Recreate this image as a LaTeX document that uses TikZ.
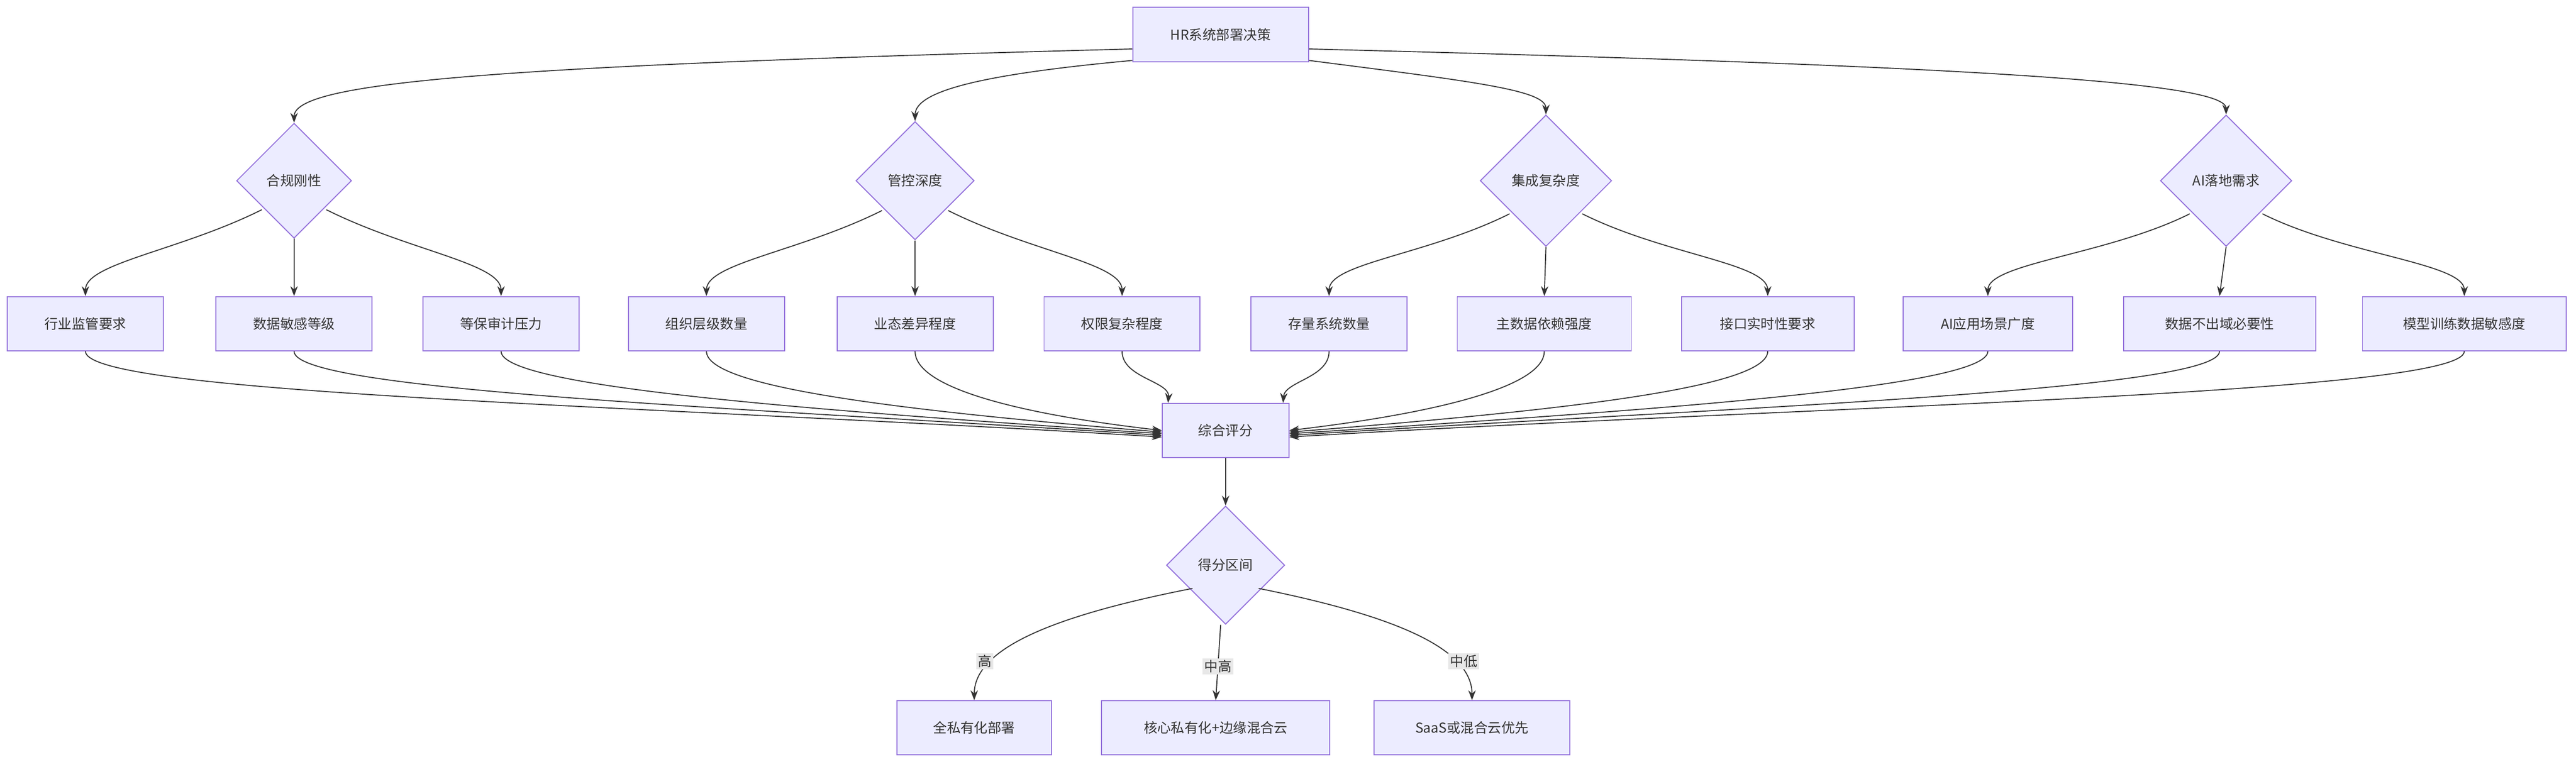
\documentclass[tikz,border=0pt]{standalone}
\usepackage{fontspec}
\setmainfont{Noto Sans CJK SC}
\usetikzlibrary{shapes.geometric,arrows.meta,calc}
\definecolor{nfill}{HTML}{ECECFF}
\definecolor{nline}{HTML}{9370DB}
\definecolor{ink}{HTML}{333333}
\definecolor{lbl}{HTML}{E8E8E8}
\begin{document}
\begin{tikzpicture}[x=1pt,y=-1pt,
  every node/.style={font=\fontsize{8.3}{10}\selectfont, text=ink},
  box/.style={draw=nline, fill=nfill, line width=0.6pt, minimum height=33pt, inner sep=0pt},
  dia/.style={diamond, draw=nline, fill=nfill, line width=0.6pt, inner sep=0pt, minimum width=#1, minimum height=#1},
  e/.style={draw=ink, line width=0.6pt, -{Stealth[length=6pt,width=4.5pt]}},
  el/.style={fill=lbl, inner sep=1pt}]
\useasboundingbox (0,0) rectangle (1568,463.6);
\fill[white] (0,0) rectangle (1568,463.6);
\node[box, minimum width=107pt] (top) at (743,21) {HR系统部署决策};
\node[dia=70pt] (d1) at (179,110) {合规刚性};
\node[dia=72pt] (d2) at (557,110) {管控深度};
\node[dia=80pt] (d3) at (941,110) {集成复杂度};
\node[dia=80pt] (d4) at (1355,110) {AI落地需求};
\node[box, minimum width=95pt] (b1) at (52,197) {行业监管要求};
\node[box, minimum width=95pt] (b2) at (179,197) {数据敏感等级};
\node[box, minimum width=95pt] (b3) at (305,197) {等保审计压力};
\node[box, minimum width=95pt] (b4) at (430,197) {组织层级数量};
\node[box, minimum width=95pt] (b5) at (557,197) {业态差异程度};
\node[box, minimum width=95pt] (b6) at (683,197) {权限复杂程度};
\node[box, minimum width=95pt] (b7) at (809,197) {存量系统数量};
\node[box, minimum width=106pt] (b8) at (940,197) {主数据依赖强度};
\node[box, minimum width=105pt] (b9) at (1076,197) {接口实时性要求};
\node[box, minimum width=103pt] (b10) at (1210,197) {AI应用场景广度};
\node[box, minimum width=117pt] (b11) at (1351,197) {数据不出域必要性};
\node[box, minimum width=124pt] (b12) at (1500,197) {模型训练数据敏感度};
\node[box, minimum width=77pt] (s) at (746,262) {综合评分};
\node[dia=72pt] (r) at (746,344) {得分区间};
\node[box, minimum width=94pt] (o1) at (593,443) {全私有化部署};
\node[box, minimum width=139pt] (o2) at (740,443) {核心私有化+边缘混合云};
\node[box, minimum width=119pt] (o3) at (896,443) {SaaS或混合云优先};
% top to diamonds
\draw[e] ([yshift=8pt]top.south west) .. controls (300,40) and (179,50) .. (d1.north);
\draw[e] ([yshift=1pt]top.south west) .. controls (600,45) and (557,55) .. (d2.north);
\draw[e] ([yshift=1pt]top.south east) .. controls (900,50) and (941,55) .. (d3.north);
\draw[e] ([yshift=8pt]top.south east) .. controls (1200,40) and (1355,50) .. (d4.north);
% diamonds to boxes
\foreach \d/\a/\b/\c in {d1/b1/b2/b3, d2/b4/b5/b6, d3/b7/b8/b9, d4/b10/b11/b12}{
  \draw[e] ($(\d.south west)+(-2,0)$) .. controls +(-50,25) and ($(\a.north)+(0,-20)$) .. (\a.north);
  \draw[e] (\d.south) -- (\b.north);
  \draw[e] ($(\d.south east)+(2,0)$) .. controls +(50,25) and ($(\c.north)+(0,-20)$) .. (\c.north);
}
% boxes to score
\draw[e] (b1.south) .. controls (52,240) and (400,247) .. ([yshift=-4pt]s.west);
\draw[e] (b2.south) .. controls (179,238) and (450,248) .. ([yshift=-3pt]s.west);
\draw[e] (b3.south) .. controls (305,236) and (500,250) .. ([yshift=-2pt]s.west);
\draw[e] (b4.south) .. controls (430,236) and (550,250) .. ([yshift=-1pt]s.west);
\draw[e] (b5.south) .. controls (557,236) and (620,252) .. (s.west);
\draw[e] (b6.south) .. controls (683,230) and (712,232) .. ([xshift=-35pt]s.north);
\draw[e] (b7.south) .. controls (809,230) and (782,232) .. ([xshift=35pt]s.north);
\draw[e] (b8.south) .. controls (940,236) and (870,252) .. (s.east);
\draw[e] (b9.south) .. controls (1076,236) and (950,250) .. ([yshift=-1pt]s.east);
\draw[e] (b10.south) .. controls (1210,236) and (1000,250) .. ([yshift=-2pt]s.east);
\draw[e] (b11.south) .. controls (1351,238) and (1050,248) .. ([yshift=-3pt]s.east);
\draw[e] (b12.south) .. controls (1500,240) and (1100,247) .. ([yshift=-4pt]s.east);
\draw[e] (s.south) -- (r.north);
% outcomes
\draw[e] ($(r.south west)+(-2,-4)$) .. controls (640,375) and (593,395) .. node[el, pos=0.72, left=-1pt] {高} (o1.north);
\draw[e] ($(r.south)+(-3,0)$) -- node[el, pos=0.55] {中高} (o2.north);
\draw[e] ($(r.south east)+(2,-4)$) .. controls (850,375) and (896,395) .. node[el, pos=0.72, right=-4pt] {中低} (o3.north);
\end{tikzpicture}
\end{document}
